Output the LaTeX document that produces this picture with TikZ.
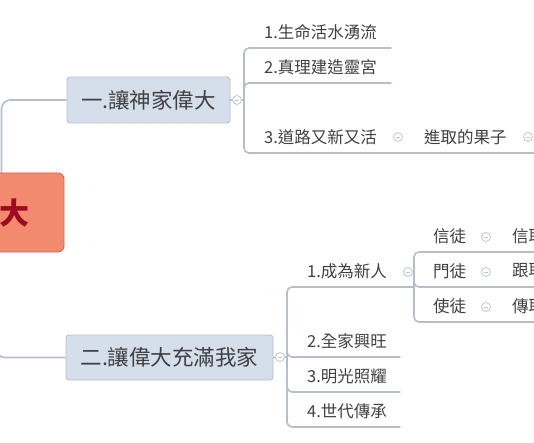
\documentclass[tikz,border=0pt]{standalone}
\usepackage{fontspec}
\setmainfont{Noto Sans CJK TC}
\usepackage{xcolor}
\usepackage{tikz}
\definecolor{rootfill}{HTML}{F28A6F}
\definecolor{rootedge}{HTML}{D9654E}
\definecolor{rootink}{HTML}{9E0A1F}
\definecolor{topicfill}{HTML}{D5DFEC}
\definecolor{topicedge}{HTML}{B5BFD0}
\definecolor{branchc}{HTML}{B6BECC}
\definecolor{foldc}{HTML}{BFC6D3}
\definecolor{ink}{HTML}{404040}
\tikzset{
  branch/.style={branchc,line width=1.6pt,rounded corners=5pt},
  topic/.style={draw=topicedge,fill=topicfill,line width=0.9pt,rounded corners=3pt,inner sep=0pt,text=ink,font=\fontsize{21.5}{24}\selectfont},
  sub/.style={anchor=south west,inner xsep=10pt,inner ysep=0pt,minimum height=32pt,align=left,text=ink,font=\fontsize{16.5}{20}\selectfont},
  foldsym/.style={circle,draw=foldc,fill=white,line width=0.8pt,minimum size=9pt,inner sep=0pt,
    path picture={\draw[foldc,line width=0.8pt] ([xshift=-2.2pt]path picture bounding box.center) -- ([xshift=2.2pt]path picture bounding box.center);}}
}

\begin{document}
\begin{tikzpicture}[x=1pt,y=-1pt]
  \useasboundingbox (0,0) rectangle (534,443);
  \clip (0,0) rectangle (534,443);
  % root
  \coordinate (r1) at (1.5,173);
  \coordinate (r2) at (-4,252);
  \node[topic] (t1) at (148.5,100) [minimum width=163pt,minimum height=46pt] {一.讓神家偉大};
  \node[topic] (t2) at (169.5,357.5) [minimum width=207pt,minimum height=45pt] {二.讓偉大充滿我家};
  \draw[branch,rounded corners=9pt] (r1) |- (t1.west);
  \draw[branch,rounded corners=9pt] (r2) |- (t2.west);
  \node[draw=rootedge,fill=rootfill,line width=0.9pt,rounded corners=6pt,minimum width=140pt,minimum height=79pt] (root) at (-6,212.5) {};
  \node[text=rootink,font=\fontsize{30}{34}\selectfont\bfseries] (rootlab) at (14,213) {大};
  % first topic
  \coordinate (j1) at (244,100);
  \node[sub,text width=117pt] (a1) at (254,48) {1.生命活水湧流};
  \node[sub,text width=117pt] (a2) at (254,83) {2.真理建造靈宮};
  \node[sub,text width=116pt] (a3) at (254,153) {3.道路又新又活};
  \node[sub,text width=126pt] (b3) at (414,153) {進取的果子};
  \draw[branch] (t1.east) -- (j1);
  \draw[branch] (j1) |- (a1.south east);
  \draw[branch] (j1) |- (a2.south east);
  \draw[branch] (j1) |- (a3.south east) -- (b3.south east);
  \node[foldsym] (f1) at (237,100) {};
  \node[foldsym] (f2) at (398,137) {};
  \node[foldsym] (f3) at (528,137) {};
  % second topic
  \coordinate (j2) at (287,357);
  \coordinate (j3) at (414,287);
  \node[sub,text width=83pt] (c1) at (297,287) {1.成為新人};
  \node[sub,text width=83pt] (c2) at (297,357) {2.全家興旺};
  \node[sub,text width=83pt] (c3) at (297,392) {3.明光照耀};
  \node[sub,text width=83pt] (c4) at (297,427) {4.世代傳承};
  \node[sub,text width=37pt] (d1) at (423,252) {信徒};
  \node[sub,text width=37pt] (d2) at (423,287) {門徒};
  \node[sub,text width=37pt] (d3) at (423,322) {使徒};
  \node[sub,text width=60pt] (e1) at (502,252) {信耶};
  \node[sub,text width=60pt] (e2) at (502,287) {跟耶};
  \node[sub,text width=60pt] (e3) at (502,322) {傳耶};
  \draw[branch] (t2.east) -- (j2);
  \draw[branch] (j2) |- (c1.south east) -- (j3);
  \draw[branch] (j2) |- (c2.south east);
  \draw[branch] (j2) |- (c3.south east);
  \draw[branch] (j2) |- (c4.south east);
  \draw[branch] (j3) |- (d1.south east) -- (e1.south east);
  \draw[branch] (j3) |- (d2.south east) -- (e2.south east);
  \draw[branch] (j3) |- (d3.south east) -- (e3.south east);
  \node[foldsym] (f4) at (280,357) {};
  \node[foldsym] (f5) at (408,272) {};
  \node[foldsym] (f6) at (486,237) {};
  \node[foldsym] (f7) at (486,272) {};
  \node[foldsym] (f8) at (486,307) {};
\end{tikzpicture}
\end{document}
